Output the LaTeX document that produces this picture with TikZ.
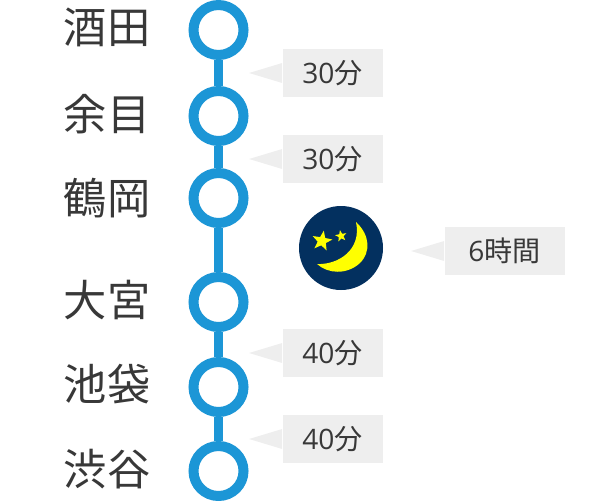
\documentclass[tikz,border=0pt]{standalone}
\usepackage{fontspec}
\setmainfont{Noto Sans CJK JP}
\newfontfamily\digitfont{Open Sans}
\usetikzlibrary{shapes.geometric}
\definecolor{linecol}{HTML}{1C96D6}
\definecolor{boxcol}{HTML}{EEEEEE}
\definecolor{textcol}{HTML}{383838}
\definecolor{nightcol}{HTML}{03305F}
\definecolor{mooncol}{HTML}{FFFF00}

\begin{document}
\begin{tikzpicture}
    [x=0.2mm, y=-0.2mm,
    vertex/.style={circle, draw=linecol, fill=white, line width=2mm, minimum size=10mm, inner sep=0pt},
    station/.style={text=textcol, font=\fontsize{24.6}{25}\selectfont, inner sep=0pt},
    timebox/.style={fill=boxcol, text=textcol, minimum height=9.6mm, inner sep=0pt, font=\fontsize{16}{16}\selectfont},
    staricon/.style={star, star points=5, star point ratio=2.4, fill=mooncol, inner sep=0pt}]
        \useasboundingbox (0,0) rectangle (600,500);

        \node[vertex] (E1) at (218.5,30) {};
        \node[vertex] (E2) at (218.5,116) {};
        \node[vertex] (E3) at (218.5,198) {};
        \node[vertex] (E4) at (218.5,302) {};
        \node[vertex] (E5) at (218.5,387) {};
        \node[vertex] (E6) at (218.5,471) {};

        \draw[linecol, line width=1.8mm] (E1) -- (E2);
        \draw[linecol, line width=1.8mm] (E2) -- (E3);
        \draw[linecol, line width=1.8mm] (E3) -- (E4);
        \draw[linecol, line width=1.8mm] (E4) -- (E5);
        \draw[linecol, line width=1.8mm] (E5) -- (E6);

        \node[station] (S1) at (107,27) {酒田};
        \node[station] (S2) at (107,114) {余目};
        \node[station] (S3) at (107,198) {鶴岡};
        \node[station] (S4) at (107,300) {大宮};
        \node[station] (S5) at (107,384) {池袋};
        \node[station] (S6) at (107,469) {渋谷};

        \node[timebox, minimum width=20mm] (T1) at (332.5,73) {{\digitfont 30}分};
        \node[timebox, minimum width=20mm] (T2) at (332.5,159) {{\digitfont 30}分};
        \node[timebox, minimum width=24mm] (T3) at (504.5,251) {{\digitfont 6}時間};
        \node[timebox, minimum width=20mm] (T4) at (332.5,353) {{\digitfont 40}分};
        \node[timebox, minimum width=20mm] (T5) at (332.5,439) {{\digitfont 40}分};

        \coordinate (P1) at (249,73);
        \coordinate (P2) at (249,159);
        \coordinate (P3) at (411,251);
        \coordinate (P4) at (249,353);
        \coordinate (P5) at (249,439);

        \fill[boxcol] (P1) -- (T1.west |- 0,63) -- (T1.west |- 0,83) -- cycle;
        \fill[boxcol] (P2) -- (T2.west |- 0,149) -- (T2.west |- 0,169) -- cycle;
        \fill[boxcol] (P3) -- (T3.west |- 0,241) -- (T3.west |- 0,261) -- cycle;
        \fill[boxcol] (P4) -- (T4.west |- 0,343) -- (T4.west |- 0,363) -- cycle;
        \fill[boxcol] (P5) -- (T5.west |- 0,429) -- (T5.west |- 0,449) -- cycle;

        \node[circle, fill=nightcol, minimum size=16.8mm, inner sep=0pt] (M) at (341,248) {};
        \fill[mooncol] (356,222) .. controls (370,235) and (371,252) .. (360,263)
            .. controls (347,275) and (328,274) .. (317,264)
            .. controls (338,265) and (362,250) .. (356,222) -- cycle;
        \node[staricon, minimum size=4.2mm, rotate=-10] (A1) at (322,241) {};
        \node[staricon, minimum size=2.4mm, rotate=10] (A2) at (341,236) {};
\end{tikzpicture}
\end{document}
